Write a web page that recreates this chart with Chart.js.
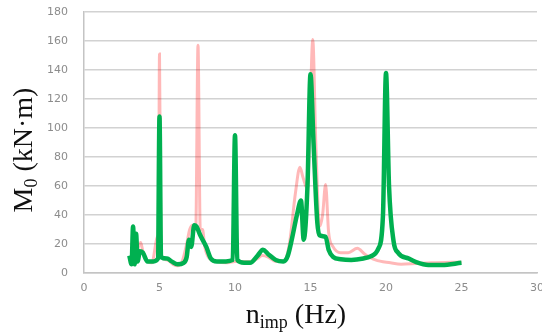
<!DOCTYPE html>
<html>
<head>
<meta charset="utf-8">
<script src="https://cdn.jsdelivr.net/npm/chart.js@4"></script>
<style>
  html, body { margin: 0; padding: 0; background: #fff; }
  #wrap { width: 542px; height: 334px; position: relative; }
</style>
</head>
<body>
<div id="wrap"><canvas id="momentChart"></canvas></div>
<script>
// values (frequency in Hz, moment in kN·m)
const greenHz = [3.0, 3.15, 3.25, 3.35, 3.45, 3.55, 3.7, 3.9, 4.2, 4.6, 4.9, 5.0, 5.1, 5.5, 5.8, 6.2, 6.6, 6.8, 6.95, 7.1, 7.3, 7.45, 7.7, 8.1, 8.4, 8.8, 9.4, 9.85, 10.0, 10.15, 10.6, 11.0, 11.5, 11.85, 12.2, 12.7, 13.2, 13.5, 13.8, 14.1, 14.37, 14.55, 14.8, 15.0, 15.2, 15.45, 15.6, 16.0, 16.2, 16.5, 17.0, 17.7, 18.5, 19.0, 19.5, 19.8, 20.0, 20.2, 20.5, 20.8, 21.5, 22.0, 22.8, 23.7, 25.0];
const greenM0 = [12, 6, 32, 6, 27, 8, 15, 14, 8, 8, 10, 108, 11, 10, 8, 6, 7, 11, 23, 18, 33, 32, 26, 18, 10, 8, 8, 9, 95, 9, 7, 7, 12, 16, 13, 9, 8, 12, 25, 40, 50, 23, 60, 137, 90, 35, 26, 25, 16, 11, 9.5, 9, 10, 11.5, 17, 40, 138, 60, 22, 14, 10, 7.5, 5.5, 5.5, 7];

const pinkHz = [3.0, 3.3, 3.6, 3.75, 3.9, 4.2, 4.5, 4.75, 4.85, 4.93, 5.0, 5.1, 5.5, 5.9, 6.2, 6.5, 6.8, 7.0, 7.2, 7.4, 7.55, 7.7, 7.85, 8.0, 8.3, 8.7, 9.5, 10.0, 10.5, 11.0, 11.5, 11.8, 12.2, 12.7, 13.2, 13.6, 14.0, 14.3, 14.5, 14.8, 14.95, 15.15, 15.35, 15.6, 15.8, 16.0, 16.2, 16.5, 17.0, 17.5, 18.1, 18.6, 19.3, 20.3, 21.0, 22.0, 23.0, 25.0];
const pinkM0 = [10, 8, 18, 21, 15, 8, 7, 20, 25, 10, 151, 12, 9, 6, 5, 8, 20, 30, 33, 30, 157, 30, 30, 18, 10, 8, 7, 8, 8, 8, 10, 12, 11, 8, 8, 20, 55, 73, 66, 58, 100, 161, 90, 32, 40, 61, 28, 18, 14, 14, 17, 13, 9, 7, 6, 6.5, 7, 7.5];

const xTicks = [0, 5, 10, 15, 20, 25, 30];
const yTicks = [0, 20, 40, 60, 80, 100, 120, 140, 160, 180];

const toPoints = (xs, ys) => xs.map((x, i) => ({ x, y: ys[i] }));

// axis titles with real subscripts
const titlePlugin = {
  id: "axisTitles",
  afterDraw(chart) {
    const c = chart.ctx;
    const big = "28px 'Liberation Serif'";
    const small = "18px 'Liberation Serif'";
    c.save();
    c.fillStyle = "#111";
    c.textBaseline = "alphabetic";

    // y title: M0 (kN·m)
    c.translate(32, 150);
    c.rotate(-Math.PI / 2);
    c.font = big;
    const wM = c.measureText("M").width;
    const wRest = c.measureText(" (kN·m)").width;
    c.font = small;
    const w0 = c.measureText("0").width;
    let x = -(wM + w0 + wRest) / 2;
    c.font = big;
    c.fillText("M", x, 0);
    x += wM;
    c.font = small;
    c.fillText("0", x, 5);
    x += w0;
    c.font = big;
    c.fillText(" (kN·m)", x, 0);
    c.restore();

    // x title: nimp (Hz)
    c.save();
    c.fillStyle = "#111";
    c.font = big;
    const wn = c.measureText("n").width;
    const wHz = c.measureText(" (Hz)").width;
    c.font = small;
    const wimp = c.measureText("imp").width;
    let px = 296 - (wn + wimp + wHz) / 2;
    const base = 323;
    c.font = big;
    c.fillText("n", px, base);
    px += wn;
    c.font = small;
    c.fillText("imp", px, base + 5);
    px += wimp;
    c.font = big;
    c.fillText(" (Hz)", px, base);
    c.restore();
  }
};

new Chart(document.getElementById("momentChart"), {
  type: "line",
  data: {
    datasets: [
      {
        label: "M0 (green)",
        data: toPoints(greenHz, greenM0),
        borderColor: "#00b050",
        borderWidth: 4.5,
        pointRadius: 0,
        cubicInterpolationMode: "monotone",
        fill: false
      },
      {
        label: "M0 (pink)",
        data: toPoints(pinkHz, pinkM0),
        borderColor: "rgba(255, 0, 0, 0.28)",
        borderWidth: 3,
        pointRadius: 0,
        cubicInterpolationMode: "monotone",
        fill: false
      }
    ]
  },
  options: {
    responsive: true,
    maintainAspectRatio: false,
    animation: false,
    layout: { padding: { top: 12, right: 5, left: 0, bottom: 0 } },
    plugins: {
      legend: { display: false },
      tooltip: { enabled: false }
    },
    scales: {
      x: {
        type: "linear",
        min: 0,
        max: 30,
        afterBuildTicks: s => { s.ticks = xTicks.map(v => ({ value: v })); },
        afterFit: s => { s.height = 61; s.paddingLeft = 0; s.paddingRight = 0; },
        grid: { display: false, drawTicks: false },
        border: { display: true, color: "#c4c4c4", width: 1.5 },
        ticks: { padding: 9, color: "#8c8c8c", font: { family: "DejaVu Sans", size: 11 } }
      },
      y: {
        min: 0,
        max: 180,
        afterBuildTicks: s => { s.ticks = yTicks.map(v => ({ value: v })); },
        afterFit: s => { s.width = 84; s.paddingTop = 0; s.paddingBottom = 0; },
        grid: { color: "#d2d2d2", lineWidth: 1.5, drawTicks: false },
        border: { display: true, color: "#c4c4c4", width: 1.5 },
        ticks: { padding: 16, color: "#8c8c8c", font: { family: "DejaVu Sans", size: 11 } }
      }
    }
  },
  plugins: [titlePlugin]
});
</script>
</body>
</html>
